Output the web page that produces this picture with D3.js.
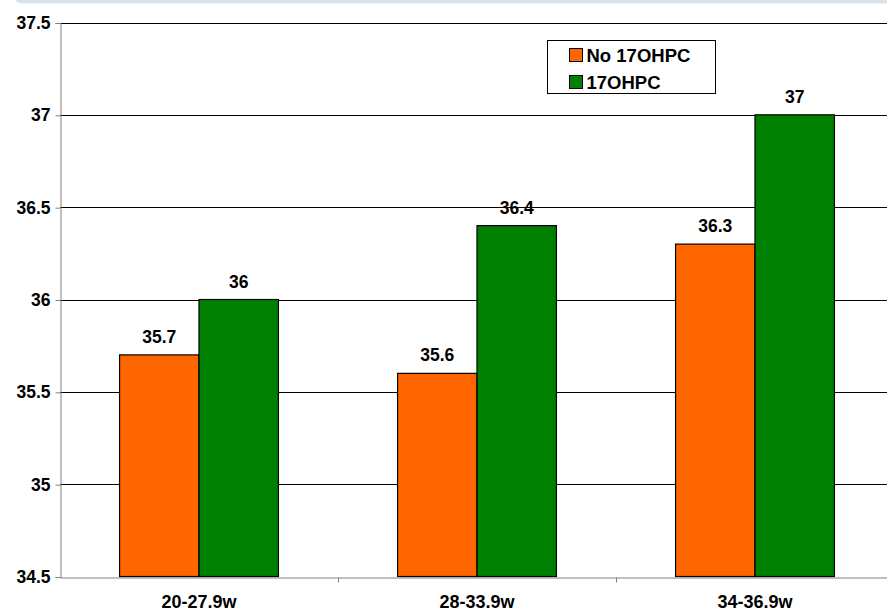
<!DOCTYPE html>
<html>
<head>
<meta charset="utf-8">
<script src="https://cdn.jsdelivr.net/npm/d3@7"></script>
<style>
  html, body { margin: 0; padding: 0; background: #fff; overflow: hidden; }
  text { font-family: "Liberation Sans", Arial, sans-serif; font-weight: bold; fill: #000; }
</style>
</head>
<body>
<div id="chart"></div>
<script>
// Datos
const categorias = ["20-27.9w", "28-33.9w", "34-36.9w"];
const series = ["No 17OHPC", "17OHPC"];
const valoresNo17 = [35.7, 35.6, 36.3];
const valores17 = [36.0, 36.4, 37.0];
const ticksY = [34.5, 35, 35.5, 36, 36.5, 37, 37.5];
const colores = ["#FF6600", "#008000"];

function crearGrafico() {
    const width = 887, height = 611;
    const svg = d3.select("#chart").append("svg")
        .attr("width", width)
        .attr("height", height);

    // Banda superior gris azulada
    svg.append("rect")
        .attr("x", 15).attr("y", -8)
        .attr("width", 880).attr("height", 11.5)
        .attr("rx", 7)
        .attr("fill", "#dae3eb");

    const left = 60, right = 894, top = 22.5, bottom = 576.5;

    const y = d3.scaleLinear().domain([34.5, 37.5]).range([bottom, top]);
    const x0 = d3.scaleBand().domain(categorias).range([left, right]).padding(0);
    const x1 = d3.scaleBand().domain(series).range([0, x0.bandwidth()])
        .paddingInner(0).paddingOuter(0.75);

    // Líneas de cuadrícula
    svg.append("g")
        .selectAll("line")
        .data(ticksY.slice(1))
        .enter().append("line")
        .attr("x1", left).attr("x2", width)
        .attr("y1", d => Math.round(y(d)) + 0.5)
        .attr("y2", d => Math.round(y(d)) + 0.5)
        .attr("stroke", "#000")
        .attr("stroke-width", 1);

    // Eje Y
    const ejeY = svg.append("g")
        .attr("transform", `translate(${left + 0.5},0.5)`)
        .call(d3.axisLeft(y).tickValues(ticksY).tickSize(5).tickPadding(5)
            .tickFormat(d => String(d)));
    ejeY.select(".domain").attr("stroke", "#808080");
    ejeY.selectAll(".tick line").attr("stroke", "#808080");
    ejeY.selectAll("text")
        .style("font-size", "17.5px")
        .attr("fill", "#000");

    // Eje X
    const ejeX = svg.append("g")
        .attr("transform", `translate(0,${Math.round(bottom) + 0.5})`)
        .call(d3.axisBottom(x0).tickSize(0).tickPadding(18));
    ejeX.select(".domain").attr("stroke", "#808080");
    ejeX.selectAll("text")
        .style("font-size", "18px")
        .attr("fill", "#000");
    // marcas entre categorías
    ejeX.selectAll(".sep")
        .data(categorias.slice(1))
        .enter().append("line")
        .attr("class", "sep")
        .attr("x1", d => Math.round(x0(d)) + 0.5)
        .attr("x2", d => Math.round(x0(d)) + 0.5)
        .attr("y1", 0).attr("y2", 5)
        .attr("stroke", "#808080");

    // Barras
    const datos = categorias.map((c, i) => ({
        cat: c,
        vals: [
            { serie: series[0], v: valoresNo17[i], color: colores[0] },
            { serie: series[1], v: valores17[i], color: colores[1] }
        ]
    }));

    const grupos = svg.selectAll(".grupo")
        .data(datos)
        .enter().append("g")
        .attr("class", "grupo")
        .attr("transform", d => `translate(${x0(d.cat)},0)`);

    grupos.selectAll("rect")
        .data(d => d.vals)
        .enter().append("rect")
        .attr("x", d => x1(d.serie))
        .attr("y", d => y(d.v))
        .attr("width", x1.bandwidth())
        .attr("height", d => y(34.5) - y(d.v))
        .attr("fill", d => d.color)
        .attr("stroke", "#000")
        .attr("stroke-width", 1.2);

    grupos.selectAll(".valor")
        .data(d => d.vals)
        .enter().append("text")
        .attr("class", "valor")
        .attr("x", d => x1(d.serie) + x1.bandwidth() / 2)
        .attr("y", d => y(d.v) - 12)
        .attr("text-anchor", "middle")
        .style("font-size", "17.5px")
        .text(d => String(d.v));

    // Leyenda
    const leyenda = svg.append("g").attr("transform", "translate(547.5,40.5)");
    leyenda.append("rect")
        .attr("width", 168).attr("height", 53)
        .attr("fill", "#fff")
        .attr("stroke", "#000")
        .attr("stroke-width", 1);
    const items = leyenda.selectAll(".item")
        .data(series)
        .enter().append("g")
        .attr("class", "item")
        .attr("transform", (d, i) => `translate(22,${8 + i * 27})`);
    items.append("rect")
        .attr("width", 13).attr("height", 13)
        .attr("fill", (d, i) => colores[i])
        .attr("stroke", "#000")
        .attr("stroke-width", 1);
    items.append("text")
        .attr("x", 17).attr("y", 13)
        .style("font-size", "18.5px")
        .text(d => d);
}

crearGrafico();
</script>
</body>
</html>
